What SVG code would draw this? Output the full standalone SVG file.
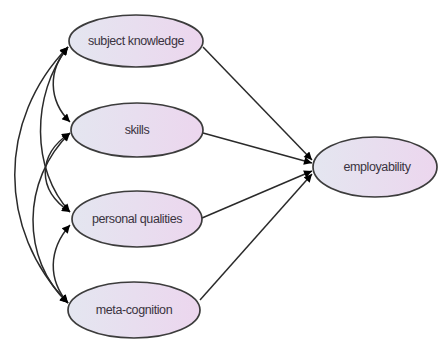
<svg xmlns="http://www.w3.org/2000/svg" width="438" height="340" viewBox="0 0 438 340">
<style>
.node ellipse{fill:url(#g);stroke:#3c3c3c;stroke-width:1.7}
.node text{font-family:"Liberation Sans",Arial,sans-serif;font-size:12.5px;fill:#3a3340;text-anchor:middle;letter-spacing:-0.4px}
.conn path{fill:none;stroke:#2a2a2a;stroke-width:1.5}
</style>
<defs>
<linearGradient id="g" x1="0" y1="0" x2="1" y2="0">
<stop offset="0" stop-color="#e4e6f0"/>
<stop offset="1" stop-color="#ecd6ee"/>
</linearGradient>
<marker id="a" viewBox="0 0 10 10" refX="10" refY="5" markerWidth="11" markerHeight="8" markerUnits="userSpaceOnUse" orient="auto-start-reverse">
<path d="M0,0 L10,5 L0,10 z" fill="#000"/>
</marker>
</defs>
<g class="conn">
<path d="M203,47 L312,160" marker-end="url(#a)"/>
<path d="M203,133 L312,163" marker-end="url(#a)"/>
<path d="M202,218 L312,171" marker-end="url(#a)"/>
<path d="M200,300 L312,174" marker-end="url(#a)"/>
<path d="M68,47 C48,70 48,100 70,122" marker-start="url(#a)" marker-end="url(#a)"/>
<path d="M68,47 C31,95 31,170 70,212" marker-start="url(#a)" marker-end="url(#a)"/>
<path d="M68,47 C-3,120 -3,230 68,303" marker-start="url(#a)" marker-end="url(#a)"/>
<path d="M70,133 C37,155 37,190 70,212" marker-start="url(#a)" marker-end="url(#a)"/>
<path d="M70,133 C21,180 21,260 68,303" marker-start="url(#a)" marker-end="url(#a)"/>
<path d="M70,225 C48,250 48,280 68,303" marker-start="url(#a)" marker-end="url(#a)"/>
</g>
<g id="subject-knowledge" class="node"><ellipse cx="136" cy="41" rx="67" ry="26"/><text x="136" y="45">subject knowledge</text></g>
<g id="skills" class="node"><ellipse cx="137" cy="130" rx="66" ry="27"/><text x="137" y="134">skills</text></g>
<g id="personal-qualities" class="node"><ellipse cx="137" cy="219" rx="65" ry="28"/><text x="137" y="223">personal qualities</text></g>
<g id="meta-cognition" class="node"><ellipse cx="134" cy="310" rx="66" ry="28"/><text x="134" y="314">meta-cognition</text></g>
<g id="employability" class="node"><ellipse cx="375" cy="167" rx="62" ry="30"/><text x="377" y="171">employability</text></g>
</svg>
